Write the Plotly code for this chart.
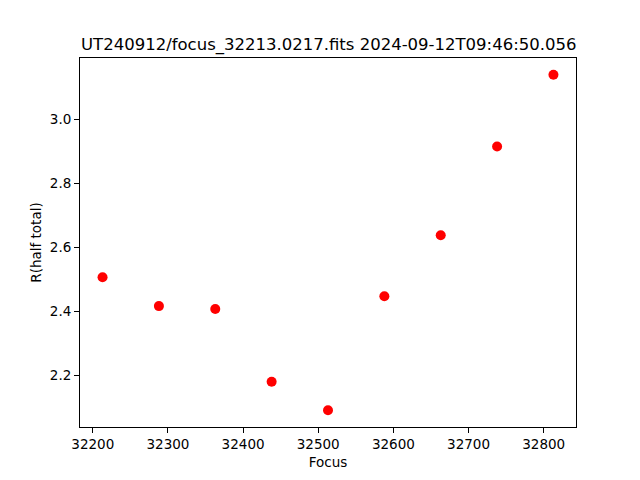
import plotly.graph_objects as go

focus = [32213, 32288, 32363, 32438, 32513, 32588, 32663, 32738, 32813]
r_half = [2.507, 2.417, 2.408, 2.181, 2.092, 2.448, 2.638, 2.915, 3.139]
title = "UT240912/focus_32213.0217.fits 2024-09-12T09:46:50.056"

def padded(vals, m=0.05):
    lo, hi = min(vals), max(vals)
    d = hi - lo
    return [lo - m * d, hi + m * d]

font = "DejaVu Sans"
fig = go.Figure(go.Scatter(x=focus, y=r_half, mode="markers",
                           marker=dict(color="#ff0000", size=10, line=dict(width=0))))

axis_common = dict(showline=True, linecolor="black", linewidth=1, mirror=True,
                   ticks="outside", ticklen=5, tickwidth=1, tickcolor="black",
                   showgrid=False, zeroline=False,
                   tickfont=dict(family=font, size=13.5, color="black"))

fig.update_layout(
    width=640, height=480,
    margin=dict(l=80, r=64, t=58, b=53),
    paper_bgcolor="white", plot_bgcolor="white",
    showlegend=False,
    font=dict(family=font, color="black"),
    xaxis=dict(range=padded(focus), dtick=100, tick0=32200, tickformat="d",
               title=dict(text="Focus", font=dict(family=font, size=13.5), standoff=6),
               **axis_common),
    yaxis=dict(range=padded(r_half), dtick=0.2, tick0=2.0, tickformat=".1f",
               title=dict(text="R(half total)", font=dict(family=font, size=13.5), standoff=5),
               **axis_common),
    annotations=[dict(text=title, xref="paper", yref="paper", x=0.5, y=1,
                      xanchor="center", yanchor="bottom", yshift=1, showarrow=False,
                      font=dict(family=font, size=16.5, color="black"))],
)

fig.write_html("out.html", config={"displayModeBar": False},
               post_script="document.body.style.margin='0';")
